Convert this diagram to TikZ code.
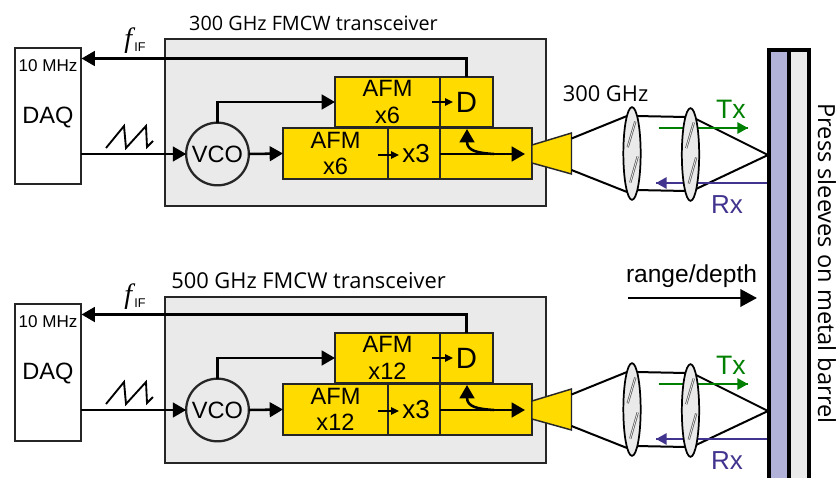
\documentclass[tikz,border=0pt]{standalone}
\usepackage{fontspec}
\setmainfont{Liberation Sans}
\newfontfamily\headfont{Open Sans}
\newfontfamily\fitalic{Liberation Serif}
\usetikzlibrary{arrows.meta,shapes.geometric,calc}
\definecolor{boxgrey}{HTML}{EAEAEA}
\definecolor{amber}{HTML}{FFDB00}
\definecolor{sleeve}{HTML}{B2B2D8}
\definecolor{rxblue}{HTML}{41348F}
\definecolor{txgreen}{HTML}{008000}
\newcommand{\fs}[1]{\fontsize{#1pt}{20pt}\selectfont}
\tikzset{
  x=0.75pt,y=-0.75pt,
  panel/.style={draw=black!85,line width=1.5pt,fill=boxgrey,inner sep=0,outer sep=0},
  daqbox/.style={draw=black!85,line width=1.7pt,fill=white,inner sep=0,outer sep=0},
  amp/.style={draw=black!85,line width=1.1pt,fill=amber,inner sep=0,outer sep=0,align=center,font=\fs{17.7}},
  vcoc/.style={circle,draw=black!85,line width=1.7pt,fill=boxgrey,inner sep=0,outer sep=0,minimum size=47pt,font=\fs{17.7}},
  sig/.style={line width=1.9pt,draw=black,-{Triangle[length=10pt,width=11pt]}},
  smallsig/.style={line width=1.5pt,draw=black,-{Triangle[length=6pt,width=5.5pt]}},
  plainline/.style={line width=1.5pt,draw=black},
  lens/.style={ellipse,draw=black,line width=1.3pt,fill=boxgrey,inner sep=0,outer sep=0,minimum width=13pt,minimum height=69.5pt},
  hatch/.style={draw=black!65,line width=1.7pt},
  hatchin/.style={draw=boxgrey,line width=0.6pt},
  head/.style={font=\headfont\fs{#1},inner sep=0,outer sep=0},
  lbl/.style={inner sep=0,outer sep=0}
}
\newcommand{\lenshatch}[1]{%
  \foreach \a/\b/\c/\d in {3.3/-32/-4.3/-6.3,5.7/3/-1.7/29}{
    \draw[hatch] ($(#1)+(\a,\b)$) -- ($(#1)+(\c,\d)$);
    \draw[hatchin] ($(#1)+(\a,\b)$) -- ($(#1)+(\c,\d)$);
  }}
% #1 prefix, #2 y offset, #3 multiplier, #4 panel top, #5 panel bottom, #6 daq bottom
\newcommand{\channel}[6]{%
  \pgfmathsetmacro{\off}{#2}
  \pgfmathsetmacro{\pcy}{(#4+#5)/2}
  \pgfmathsetmacro{\ph}{(#5-#4)*0.75}
  \pgfmathsetmacro{\dcy}{(48+#2+#6)/2}
  \pgfmathsetmacro{\dh}{(#6-48-#2)*0.75}
  \node[panel,minimum width=285.75pt,minimum height=\ph pt] (#1panel) at (355.5,\pcy) {};
  \node[daqbox,minimum width=49.5pt,minimum height=\dh pt] (#1daq) at (48,\dcy) {};
  \node[lbl,font=\fs{12.8}] (#1mhz) at (48,66+\off) {10 MHz};
  \node[lbl,font=\fs{17.7}] (#1daqt) at (48,117+\off) {DAQ};
  \node[vcoc] (#1vco) at (217.5,154+\off) {VCO};
  \node[amp,minimum width=78.75pt,minimum height=37.5pt] (#1afmu) at (387.5,102+\off) {AFM\\#3};
  \node[amp,minimum width=39.75pt,minimum height=37.5pt,font=\fs{22}] (#1det) at (466.5,102+\off) {D};
  \node[amp,minimum width=78.75pt,minimum height=38.25pt] (#1afml) at (335.5,153.5+\off) {AFM\\#3};
  \node[amp,minimum width=39pt,minimum height=38.25pt,font=\fs{19.5}] (#1mul) at (414,153.5+\off) {\hspace{3pt}x3};
  \node[amp,minimum width=69pt,minimum height=38.25pt] (#1cpl) at (486,153.5+\off) {};
  % horn
  \coordinate (#1hornA) at (532,145+\off);
  \coordinate (#1hornB) at (571.5,133+\off);
  \coordinate (#1hornC) at (571.5,174+\off);
  \coordinate (#1hornD) at (532,163+\off);
  \draw[draw=black!85,line width=1.1pt,fill=amber] (#1hornA) -- (#1hornB) -- (#1hornC) -- (#1hornD) -- cycle;
  % signal lines
  \coordinate (#1ifend) at (81.5,58.5+\off);
  \draw[sig] (#1det.north) |- (#1ifend);
  \draw[sig] (#1daq.east |- #1vco.west) -- (#1vco.west);
  \draw[sig] (#1vco.east) -- (#1afml.west);
  \draw[sig] (#1vco.north) |- (#1afmu.west);
  \coordinate (#1sa) at (432,102+\off);
  \coordinate (#1sb) at (453,102+\off);
  \draw[smallsig] (#1sa) -- (#1sb);
  \coordinate (#1sc) at (378,155+\off);
  \coordinate (#1sd) at (399,155+\off);
  \draw[smallsig] (#1sc) -- (#1sd);
  \coordinate (#1ma) at (440,154+\off);
  \coordinate (#1mb) at (525,154+\off);
  \draw[sig] (#1ma) -- (#1mb);
  \coordinate (#1ca) at (494,154+\off);
  \coordinate (#1cb) at (467,129+\off);
  \draw[sig] (#1ca) .. controls ($(#1ca)+(-16,-1)$) and ($(#1cb)+(0,22)$) .. (#1cb);
  % sawtooth
  \draw[line width=1.4pt,draw=black] (106,148+\off) -- (124,126+\off) -- (126,148+\off) -- (146,126+\off) -- (147,147+\off) -- (153,141+\off);
  % f_IF
  \node[lbl] (#1fif) at (135,41+\off) {\fitalic\itshape\fontsize{21pt}{21pt}\selectfont f\kern1.5pt\raisebox{-3pt}{\upshape\rmfamily\fontsize{9.5pt}{10pt}\selectfont IF}};
  % optics
  \coordinate (#1la) at (571.5,138.5+\off);
  \coordinate (#1lb) at (627,116+\off);
  \coordinate (#1lc) at (571.5,170+\off);
  \coordinate (#1ld) at (627,192+\off);
  \coordinate (#1le) at (636,116+\off);
  \coordinate (#1lf) at (686,117+\off);
  \coordinate (#1lg) at (636,190+\off);
  \coordinate (#1lh) at (686,191+\off);
  \coordinate (#1li) at (696,119+\off);
  \coordinate (#1lj) at (696,189+\off);
  \coordinate (#1focus) at (768,155+\off);
  \draw[plainline] (#1la) -- (#1lb) (#1lc) -- (#1ld) (#1le) -- (#1lf) (#1lg) -- (#1lh)
     (#1li) -- (#1focus) -- (#1lj);
  \coordinate (#1txa) at (659,128+\off);
  \coordinate (#1txb) at (748,128+\off);
  \draw[line width=1.5pt,draw=txgreen] (#1txa) -- (#1txb);
  \coordinate (#1rxa) at (767,183+\off);
  \coordinate (#1rxb) at (656,183+\off);
  \draw[line width=1.5pt,draw=rxblue] (#1rxa) -- (#1rxb);
  \node[lens] (#1lensA) at (632,153.5+\off) {};
  \node[lens] (#1lensB) at (690.5,154.5+\off) {};
  \lenshatch{#1lensA}
  \lenshatch{#1lensB}
  \draw[line width=1.5pt,draw=txgreen,-{Triangle[length=8pt,width=8.5pt]}] (#1lensB.east |- #1txa) -- (#1txb);
  \draw[line width=1.5pt,draw=rxblue,-{Triangle[length=8pt,width=8.5pt]}] ($(#1rxb)+(10,0)$) -- (#1rxb);
  \node[lbl,text=txgreen,font=\fs{20}] (#1tx) at (731,109+\off) {Tx};
  \node[lbl,text=rxblue,font=\fs{19.5}] (#1rx) at (727,205+\off) {Rx};
}
\begin{document}
\begin{tikzpicture}
\useasboundingbox (0,0) rectangle (838,478);
% barrel
\fill[black] (767,48) rectangle (811,478);
\fill[sleeve] (771,52) rectangle (787,478);
\fill[boxgrey] (791,52) rectangle (807,478);
\channel{a}{0}{x6}{39.5}{206}{184}
\channel{b}{256}{x12}{297}{463}{441}
\node[head=14.85] (ahead) at (313.5,23) {300 GHz FMCW transceiver};
\node[head=16.4] (bhead) at (308.5,281) {500 GHz FMCW transceiver};
\node[head=16.4] (freq) at (605.5,94) {300 GHz};
\node[lbl,font=\fs{18.4}] (range) at (691.5,276) {range/depth};
\coordinate (ra) at (628,298);
\coordinate (rb) at (757,298);
\draw[sig,line width=2pt,-{Triangle[length=12.5pt,width=13pt]}] (ra) -- (rb);
\node[head=17.7,rotate=-90] (press) at (827,263.5) {Press sleeves on metal barrel};
\end{tikzpicture}
\end{document}
